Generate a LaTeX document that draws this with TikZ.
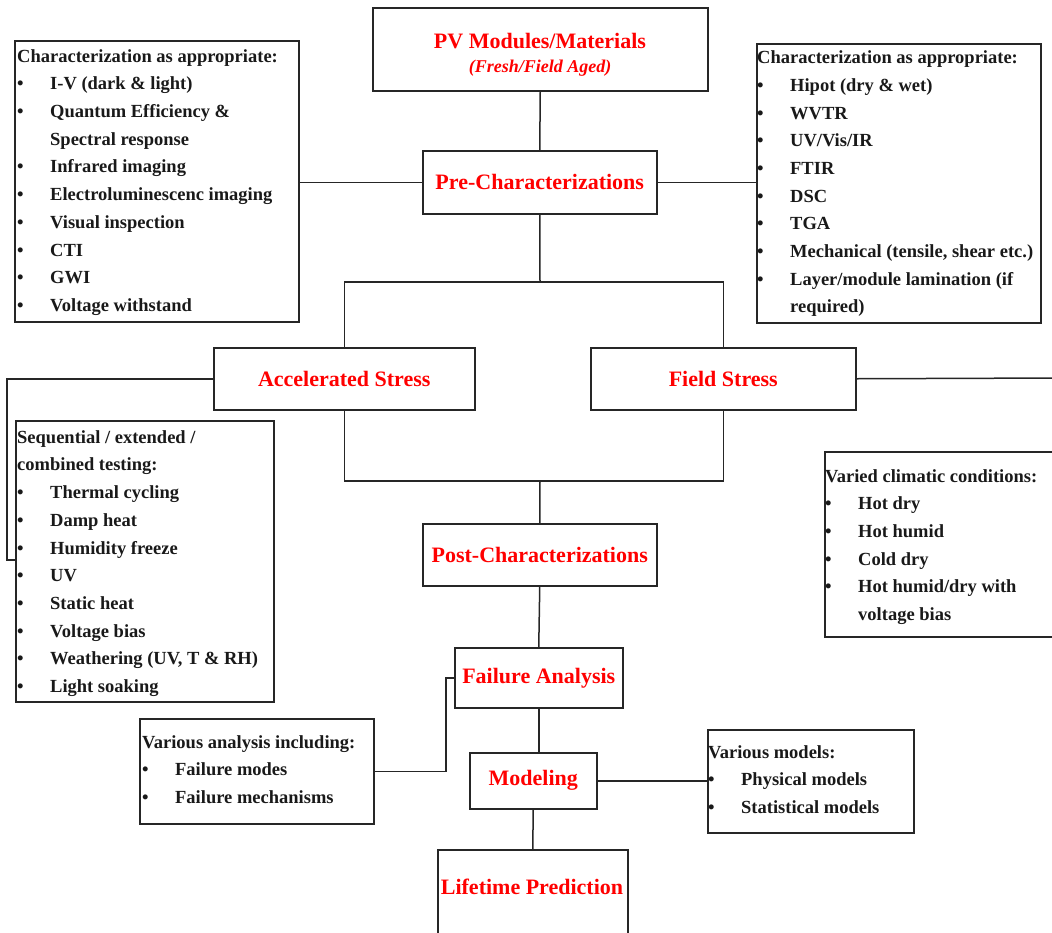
\documentclass[tikz,border=0pt]{standalone}
\usepackage{fontspec}
\setmainfont{Liberation Serif}

\newcommand\listtxtfont{\fontsize{18.5}{27.7}\selectfont\bfseries}
\newcommand\stagefont{\fontsize{22}{24}\selectfont\bfseries}
\newcommand\bitem[1]{\makebox[33pt][l]{\textbullet}#1}
\newcommand\bcont[1]{\hspace*{33pt}#1}

\begin{document}
\begin{tikzpicture}[x=1pt,y=-1pt,
  stagebox/.style={draw=black!85, line width=1.5pt, anchor=north west, inner sep=0pt, font=\stagefont, text=red},
  stagetext/.style={inner sep=0pt, font=\stagefont, text=red, align=center},
  listbox/.style={draw=black!85, line width=1.5pt, anchor=north west, inner sep=0pt},
  listtext/.style={anchor=north west, inner sep=0pt, align=left, font=\listtxtfont, text=black!90},
  link/.style={draw=black!85, line width=1.5pt}]
\clip (0,0) rectangle (1052,932);

% main chain
\node[stagebox, minimum width=335, minimum height=83] (pv) at (372,7) {};
\node[stagetext] (pvtext) at (540,55) {PV Modules/Materials\\{\fontsize{18}{24}\selectfont\itshape (Fresh/Field Aged)}};
\node[stagebox, minimum width=234, minimum height=63] (pre) at (422,150) {Pre-Characterizations};
\node[stagebox, minimum width=261, minimum height=62] (accel) at (213,347) {Accelerated Stress};
\node[stagebox, minimum width=265, minimum height=62] (field) at (590,347) {Field Stress};
\node[stagebox, minimum width=234, minimum height=62] (post) at (422,523) {Post-Characterizations};
\node[stagebox, minimum width=168, minimum height=60] (fail) at (454,647) {Failure Analysis};
\node[stagebox, minimum width=127, minimum height=56] (model) at (469,752) {Modeling};
\node[stagebox, minimum width=190, minimum height=95] (life) at (437,849) {};
\node[stagetext] (lifetext) at (532,887) {Lifetime Prediction};

% side lists
\node[listbox, minimum width=284, minimum height=281] (charL) at (14,40) {};
\node[listtext] (charLtext) at (17,42.6) {\strut Characterization as appropriate:\\
  \bitem{I-V (dark \& light)}\\
  \bitem{Quantum Efficiency \&}\\
  \bcont{Spectral response}\\
  \bitem{Infrared imaging}\\
  \bitem{Electroluminescenc imaging}\\
  \bitem{Visual inspection}\\
  \bitem{CTI}\\
  \bitem{GWI}\\
  \bitem{Voltage withstand}};

\node[listbox, minimum width=284, minimum height=279] (charR) at (756,43) {};
\node[listtext] (charRtext) at (757,44.1) {\strut Characterization as appropriate:\\
  \bitem{Hipot (dry \& wet)}\\
  \bitem{WVTR}\\
  \bitem{UV/Vis/IR}\\
  \bitem{FTIR}\\
  \bitem{DSC}\\
  \bitem{TGA}\\
  \bitem{Mechanical (tensile, shear etc.)}\\
  \bitem{Layer/module lamination (if}\\
  \bcont{required)}};

\node[listbox, minimum width=258, minimum height=281] (seq) at (15,420) {};
\node[listtext] (seqtext) at (17,423.6) {\strut Sequential / extended /\\
  combined testing:\\
  \bitem{Thermal cycling}\\
  \bitem{Damp heat}\\
  \bitem{Humidity freeze}\\
  \bitem{UV}\\
  \bitem{Static heat}\\
  \bitem{Voltage bias}\\
  \bitem{Weathering (UV, T \& RH)}\\
  \bitem{Light soaking}};

\node[listbox, minimum width=240, minimum height=185] (clim) at (824,451) {};
\node[listtext] (climtext) at (825,462.6) {\strut Varied climatic conditions:\\
  \bitem{Hot dry}\\
  \bitem{Hot humid}\\
  \bitem{Cold dry}\\
  \bitem{Hot humid/dry with}\\
  \bcont{voltage bias}};

\node[listbox, minimum width=234, minimum height=105] (anal) at (139,718) {};
\node[listtext] (analtext) at (142,728.6) {\strut Various analysis including:\\
  \bitem{Failure modes}\\
  \bitem{Failure mechanisms}};

\node[listbox, minimum width=206, minimum height=103] (models) at (707,729) {};
\node[listtext] (modelstext) at (708,738.6) {\strut Various models:\\
  \bitem{Physical models}\\
  \bitem{Statistical models}};

% connectors
\coordinate (splitT) at (540,282);
\coordinate (joinB) at (540,481);
\coordinate (fieldR) at (1060,378);
\coordinate (accelL) at (7,560);

\draw[link] (pv.south) -- (pre.north);
\draw[link] (pre.west) -- (pre.west -| charL.east);
\draw[link] (pre.east) -- (pre.east -| charR.west);
\draw[link] (pre.south) -- (splitT);
\draw[link] (accel.north) |- (splitT) -| (field.north);
\draw[link] (accel.south) |- (joinB) -| (field.south);
\draw[link] (joinB) -- (post.north);
\draw[link] (accel.west) -| (accelL) -- (accelL -| seq.west);
\draw[link] (field.east) -- (fieldR);
\draw[link] (post.south) -- (fail.north);
\draw[link] (fail.west) -- ++(-8,0) |- (anal.east);
\draw[link] (fail.south) -- (fail.south |- model.north);
\draw[link] (model.east) -- (model.east -| models.west);
\draw[link] (model.south) -- (life.north);
\end{tikzpicture}
\end{document}
